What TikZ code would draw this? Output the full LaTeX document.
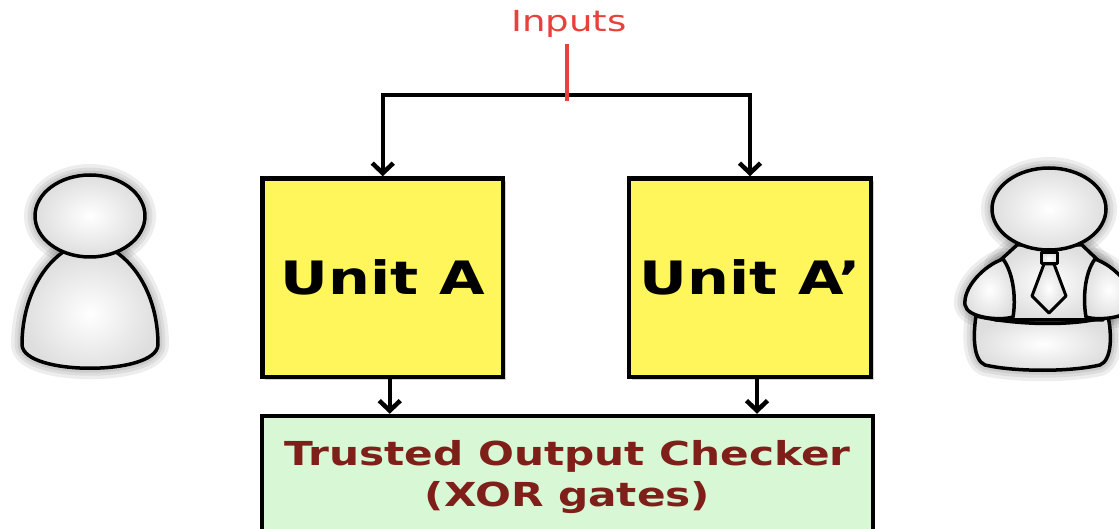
\documentclass[tikz,border=0pt]{standalone}
\usepackage{fontspec}
\setmainfont{DejaVu Sans}[FakeStretch=1.28]
\usetikzlibrary{arrows.meta}

\definecolor{unitfill}{HTML}{FFF65C}
\definecolor{chkfill}{HTML}{D8F7D5}
\definecolor{chktext}{HTML}{7E1F19}
\definecolor{inred}{HTML}{E8403A}

% outlines of the two people icons
\newcommand\lfbody{(63,252) .. controls (38,270) and (22,305) .. (22,345)
  .. controls (24,376) and (156,376) .. (158,345)
  .. controls (158,305) and (142,270) .. (116,252) -- cycle}
\newcommand\lfhead{(90,216) ellipse [x radius=55pt, y radius=41pt]}
\newcommand\rflower{(976,316) .. controls (1020,326) and (1080,326) .. (1108,316)
  .. controls (1112,335) and (1112,360) .. (1100,365)
  .. controls (1070,372) and (1015,372) .. (985,365)
  .. controls (973,360) and (973,335) .. (976,316) -- cycle}
\newcommand\rftorso{(1017,245) -- (995,265) -- (995,320) -- (1103,320) -- (1103,265) -- (1082,245) -- cycle}
\newcommand\rfarml{(1003,259) .. controls (983,266) and (963,288) .. (965,305)
  .. controls (967,318) and (1000,321) .. (1013,317)
  .. controls (1016,300) and (1014,274) .. (1003,259) -- cycle}
\newcommand\rfarmr{(1095,259) .. controls (1115,266) and (1135,288) .. (1133,305)
  .. controls (1131,318) and (1098,321) .. (1086,317)
  .. controls (1083,300) and (1084,274) .. (1095,259) -- cycle}
\newcommand\rfhead{(1049,209) ellipse [x radius=57pt, y radius=41pt]}

\begin{document}
\begin{tikzpicture}[x=1pt,y=-1pt,
  unitbox/.style={draw=black, line width=4.5pt, fill=unitfill,
    minimum width=240.5pt, minimum height=198.5pt, inner sep=0pt,
    preaction={fill=black, opacity=0.18, transform canvas={shift={(2.5pt,-2.5pt)}}},
    font=\fontsize{46}{54}\selectfont\bfseries},
  chkbox/.style={draw=black, line width=4.5pt, fill=chkfill,
    minimum width=611pt, minimum height=122pt, inner sep=0pt,
    align=center, text=chktext,
    font=\fontsize{33}{41}\selectfont\bfseries},
  inlabel/.style={text=inred, inner sep=0pt, font=\fontsize{29}{34}\selectfont},
  conn/.style={draw=black, line width=4.5pt, line join=miter,
    -{Straight Barb[length=10pt, width=21pt]}},
  tickline/.style={draw=inred, line width=4pt},
  halo/.style={draw=black, line width=#1, opacity=0.07, line join=round},
  figfill/.style={draw=black, line width=3.5pt, line join=round,
    inner color=white, outer color=black!13},
]
\clip (0,0) rectangle (1119,529);

% boxes
\node[unitbox] (ua)  at (382.75,277.75) {Unit A};
\node[unitbox, minimum width=242pt] (ua2) at (750,277.75) {Unit A’};
\node[chkbox]  (chk) at (567.5,477) {Trusted Output Checker\\(XOR gates)};

% inputs and their split
\node[inlabel] (inp) at (569,24) {Inputs};
\coordinate (split) at (567,95);
\coordinate (tickend) at (567,101);
\draw[conn] (split) -| (ua.north);
\draw[conn] (split) -| (ua2.north);
\draw[tickline] ([yshift=-6pt]inp.south -| split) -- (tickend);

% outputs into the checker
\draw[conn] ([xshift=7pt]ua.south)  -- ([xshift=7pt]ua.south |- chk.north);
\draw[conn] ([xshift=7pt]ua2.south) -- ([xshift=7pt]ua2.south |- chk.north);

% left person: soft halo, then body and head
\foreach \w in {22pt,15pt,9pt} {
  \path[halo=\w] \lfbody;
  \path[halo=\w] \lfhead;
}
\path[figfill] \lfbody;
\path[figfill] \lfhead;

% right person in shirt and tie
\foreach \w in {22pt,15pt,9pt} {
  \path[halo=\w] \rflower;
  \path[halo=\w] \rftorso;
  \path[halo=\w] \rfarml;
  \path[halo=\w] \rfarmr;
  \path[halo=\w] \rfhead;
}
\path[figfill] \rflower;
\path[figfill] \rftorso;
\path[figfill] \rfarml;
\path[figfill] \rfarmr;
\path[figfill] \rfhead;
\path[figfill, line width=3pt] (1044,264) -- (1032,296) -- (1049,313) -- (1066,296) -- (1054,264) -- cycle;
\path[figfill, line width=3pt] (1041,253) rectangle (1057,264);
\end{tikzpicture}
\end{document}
